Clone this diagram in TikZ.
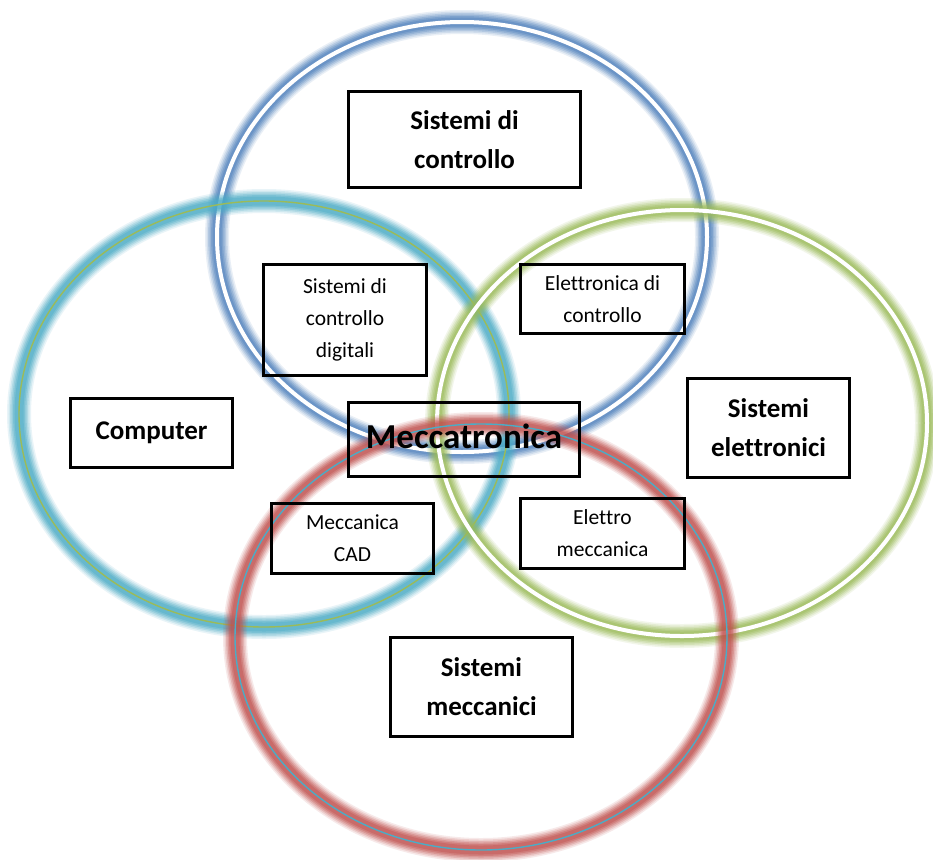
\documentclass[tikz,border=0pt]{standalone}
\usepackage{fontspec}
\setmainfont[Ligatures=NoCommon]{Carlito}
\begin{document}
\begin{tikzpicture}[x=1pt,y=-1pt,
  box/.style={draw=black, line width=3pt, align=center, inner sep=0pt},
  smalltxt/.style={font=\fontsize{21.5}{32}\selectfont},
  bigtxt/.style={font=\fontsize{27}{39}\selectfont\bfseries},
  hugetxt/.style={font=\fontsize{35}{42}\selectfont\bfseries}]
\definecolor{gblue}{RGB}{79,129,189}
\definecolor{gcyan}{RGB}{75,172,198}
\definecolor{ggreen}{RGB}{155,187,89}
\definecolor{gred}{RGB}{192,80,77}
\useasboundingbox (0,0) rectangle (933,859);
\fill[white] (0,0) rectangle (933,859);

% soft glowing ring: several stacked translucent strokes
\newcommand{\glowring}[5]{%
  \foreach \w/\o in {24/0.12, 21/0.16, 18/0.22, 15/0.28, 12/0.34, 9/0.4}
    \draw[#4, line width=\w pt, opacity=\o] (#1) ellipse [x radius=#2 pt, y radius=#3 pt];
  \draw[#5] (#1) ellipse [x radius=#2 pt, y radius=#3 pt];}

% control systems
\glowring{462,237}{245}{215}{gblue}{white, line width=4pt}
% computer
\glowring{264,414}{245}{213}{gcyan}{ggreen, line width=1.4pt}
% electronics
\glowring{682,423}{245}{213}{ggreen}{white, line width=4pt}
% mechanics
\glowring{481,637}{246}{213}{gred}{gcyan, line width=1.4pt}

\node[box, bigtxt, minimum width=232pt, minimum height=96pt] (ctrl) at (464.5,139.5) {Sistemi di\\controllo};
\node[box, smalltxt, minimum width=163pt, minimum height=111pt] (digi) at (345,320) {Sistemi di\\controllo\\digitali};
\node[box, smalltxt, minimum width=164pt, minimum height=69pt] (elctrl) at (602.5,299) {Elettronica di\\controllo};
\node[box, bigtxt, minimum width=162pt, minimum height=69pt] (comp) at (151.5,433) {\raisebox{3pt}{Computer}};
\node[box, hugetxt, minimum width=231pt, minimum height=74pt] (mecc) at (464,439.5) {\raisebox{6pt}{Meccatronica}};
\node[box, bigtxt, minimum width=162pt, minimum height=99pt] (elet) at (768.5,428) {Sistemi\\elettronici};
\node[box, smalltxt, minimum width=162pt, minimum height=70pt] (cad) at (352.5,538.5) {Meccanica\\CAD};
\node[box, smalltxt, minimum width=164pt, minimum height=70pt] (elmec) at (602.5,533.5) {Elettro\\meccanica};
\node[box, bigtxt, minimum width=182pt, minimum height=99pt] (mech) at (481.5,687) {Sistemi\\meccanici};
\end{tikzpicture}
\end{document}
